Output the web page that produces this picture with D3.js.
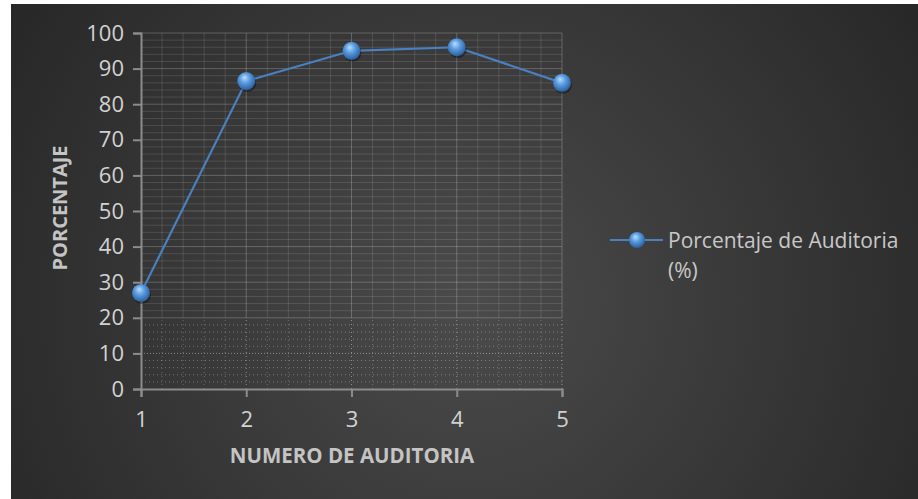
<!DOCTYPE html>
<html>
<head>
<meta charset="utf-8">
<script src="https://cdn.jsdelivr.net/npm/d3@7"></script>
<style>
  body { margin: 0; background: #fff; }
  text { font-family: "Open Sans", "Noto Sans", sans-serif; }
</style>
</head>
<body>
<svg id="chart" width="918" height="499"></svg>
<script>
// data
var auditorias = [1, 2, 3, 4, 5];
var porcentaje = [27, 86.5, 95, 96, 86];
var yTicks = [0, 10, 20, 30, 40, 50, 60, 70, 80, 90, 100];
var serieName = ["Porcentaje de Auditoria", "(%)"];

var svg = d3.select("#chart");
var W = 918, H = 499;

var defs = svg.append("defs");
var bg = defs.append("radialGradient").attr("id", "bg")
  .attr("gradientUnits", "userSpaceOnUse")
  .attr("cx", 470).attr("cy", 300).attr("r", 560);
bg.append("stop").attr("offset", "0%").attr("stop-color", "#4b4b4b");
bg.append("stop").attr("offset", "100%").attr("stop-color", "#262626");

var ball = defs.append("radialGradient").attr("id", "ball")
  .attr("cx", "45%").attr("cy", "40%").attr("r", "60%")
  .attr("fx", "40%").attr("fy", "30%");
ball.append("stop").attr("offset", "0%").attr("stop-color", "#b9dcff");
ball.append("stop").attr("offset", "45%").attr("stop-color", "#5b9de0");
ball.append("stop").attr("offset", "100%").attr("stop-color", "#2a5f9e");

svg.append("rect").attr("x", 11).attr("y", 4)
  .attr("width", W - 11).attr("height", H - 4)
  .attr("fill", "url(#bg)");

var x = d3.scaleLinear().domain([1, 5]).range([141, 562]);
var y = d3.scaleLinear().domain([0, 100]).range([389, 33]);

var grid = svg.append("g");

// minor grid: every 2 on y, every 0.2 on x
var minorY = d3.range(0, 101, 2).filter(function(v) { return v % 10 != 0; });
var minorX = d3.range(1, 5.001, 0.2).filter(function(v) { return Math.abs(v - Math.round(v)) > 0.01; });

// above 20 the grid is solid, below it dotted
grid.selectAll("line.hminor").data(minorY).enter().append("line")
  .attr("x1", x(1)).attr("x2", x(5))
  .attr("y1", function(d) { return y(d); }).attr("y2", function(d) { return y(d); })
  .attr("stroke-width", 1)
  .attr("stroke-dasharray", function(d) { return d < 20 ? "1,3" : null; })
  .attr("stroke", function(d) { return d < 20 ? "rgba(255,255,255,0.3)" : "rgba(255,255,255,0.12)"; });

[[20, 100, null, "rgba(255,255,255,0.12)"], [0, 20, "1,3", "rgba(255,255,255,0.25)"]].forEach(function(seg) {
  grid.selectAll(null).data(minorX).enter().append("line")
    .attr("x1", function(d) { return x(d); }).attr("x2", function(d) { return x(d); })
    .attr("y1", y(seg[0])).attr("y2", y(seg[1]))
    .attr("stroke", seg[3]).attr("stroke-dasharray", seg[2]);
  grid.selectAll(null).data(auditorias.slice(1)).enter().append("line")
    .attr("x1", function(d) { return x(d); }).attr("x2", function(d) { return x(d); })
    .attr("y1", y(seg[0])).attr("y2", y(seg[1]))
    .attr("stroke", seg[2] ? "rgba(255,255,255,0.4)" : "rgba(255,255,255,0.22)")
    .attr("stroke-dasharray", seg[2]);
});

grid.selectAll("line.hmajor").data(yTicks.slice(1)).enter().append("line")
  .attr("x1", x(1)).attr("x2", x(5))
  .attr("y1", function(d) { return y(d); }).attr("y2", function(d) { return y(d); })
  .attr("stroke", function(d) { return d < 20 ? "rgba(255,255,255,0.4)" : "rgba(255,255,255,0.22)"; })
  .attr("stroke-dasharray", function(d) { return d < 20 ? "1,2" : null; });

// axes
var yAxis = svg.append("g").attr("transform", "translate(" + x(1) + ",0)")
  .call(d3.axisLeft(y).tickValues(yTicks).tickSize(8).tickPadding(9));
var xAxis = svg.append("g").attr("transform", "translate(0," + y(0) + ")")
  .call(d3.axisBottom(x).tickValues(auditorias).tickSize(8).tickPadding(14).tickFormat(d3.format("d")));

[yAxis, xAxis].forEach(function(a) {
  a.select(".domain").attr("stroke", "#8c8c8c").attr("stroke-width", 2);
  a.selectAll(".tick line").attr("stroke", "#8c8c8c").attr("stroke-width", 2);
  a.selectAll(".tick text").attr("fill", "#d2d2d2")
    .style("font-size", "22px").style("font-family", "Open Sans, sans-serif");
});

// axis titles
svg.append("text").attr("transform", "translate(67,208) rotate(-90)")
  .attr("text-anchor", "middle").attr("fill", "#c4c4c4")
  .style("font-size", "20px").style("font-weight", "bold")
  .text("PORCENTAJE");
svg.append("text").attr("x", 352).attr("y", 463)
  .attr("text-anchor", "middle").attr("fill", "#c4c4c4")
  .style("font-size", "20.5px").style("font-weight", "bold")
  .text("NUMERO DE AUDITORIA");

// series
var pts = auditorias.map(function(a, i) { return [a, porcentaje[i]]; });
var line = d3.line().x(function(d) { return x(d[0]); }).y(function(d) { return y(d[1]); });

svg.append("path").datum(pts).attr("d", line)
  .attr("fill", "none").attr("stroke", "#4a7fc0").attr("stroke-width", 2.2);

svg.selectAll("circle.pt").data(pts).enter().append("circle")
  .attr("cx", function(d) { return x(d[0]) + 1; }).attr("cy", function(d) { return y(d[1]) + 2; })
  .attr("r", 9).attr("fill", "rgba(0,0,0,0.35)");
svg.selectAll("circle.pt2").data(pts).enter().append("circle")
  .attr("cx", function(d) { return x(d[0]); }).attr("cy", function(d) { return y(d[1]); })
  .attr("r", 9).attr("fill", "url(#ball)");

// legend
var lg = svg.append("g").attr("transform", "translate(610,240)");
lg.append("line").attr("x1", 0).attr("x2", 53).attr("stroke", "#4a7fc0").attr("stroke-width", 2.2);
lg.append("circle").attr("cx", 27).attr("cy", 0).attr("r", 8).attr("fill", "url(#ball)");
lg.selectAll("text").data(serieName).enter().append("text")
  .attr("x", 58).attr("y", function(d, i) { return 8 + i * 30; })
  .attr("fill", "#c8c8c8").style("font-size", "21px")
  .text(function(d) { return d; });
</script>
</body>
</html>
